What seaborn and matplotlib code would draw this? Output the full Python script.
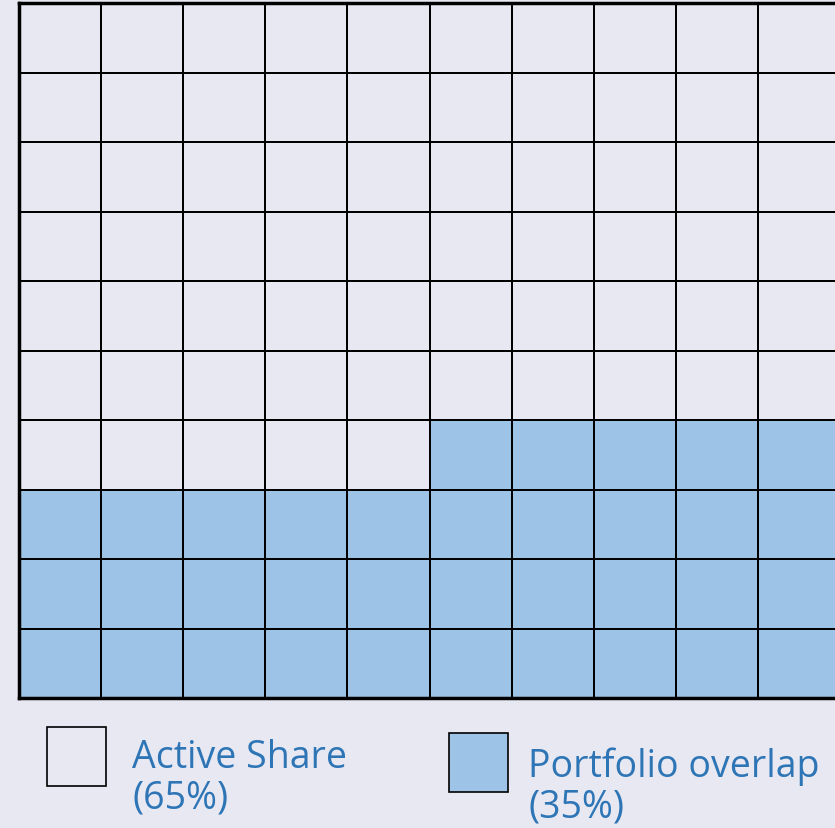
import numpy as np
import matplotlib.pyplot as plt
import seaborn as sns
from matplotlib.colors import ListedColormap
from matplotlib.patches import Rectangle

categories = ["Active Share", "Portfolio overlap"]
shares = [65, 35]
colors = ["#e8e8f2", "#9dc3e6"]
text_color = "#2e75b6"

# 10x10 waffle: first cells active, last cells overlap
cells = np.repeat(np.arange(len(shares)), shares).reshape(10, 10)

sns.set_theme(style="dark")
plt.rcParams['font.family'] = ['Open Sans', 'DejaVu Sans']

W, H = 835, 829
fig = plt.figure(figsize=(W / 100, H / 100), dpi=100)
fig.patch.set_facecolor("#e8e8f2")
ax = fig.add_axes([19 / W, 130 / H, 821 / W, 695 / H])

sns.heatmap(cells, ax=ax, cmap=ListedColormap(colors), cbar=False,
            linewidths=1.2, linecolor="black", square=False,
            xticklabels=False, yticklabels=False, vmin=0, vmax=1)
for s in ax.spines.values():
    s.set_visible(True)
    s.set_color("black")
    s.set_linewidth(2.5)

# legend: box (left, top) and text (left, first baseline) in pixels
box_pos = [(47, 728), (449, 734)]
text_pos = [(132, 768), (528, 777)]
for name, share, c, (bx, by), (tx, ty) in zip(categories, shares, colors, box_pos, text_pos):
    fig.add_artist(Rectangle((bx / W, 1 - (by + 59) / H), 59 / W, 59 / H,
                             transform=fig.transFigure, facecolor=c,
                             edgecolor="black", linewidth=1.2))
    fig.text(tx / W, 1 - ty / H, name, fontsize=27, color=text_color, va="baseline")
    fig.text(tx / W, 1 - (ty + 41) / H, f"({share}%)", fontsize=27,
             color=text_color, va="baseline")

fig.savefig("out.png", dpi=100, facecolor=fig.get_facecolor())
